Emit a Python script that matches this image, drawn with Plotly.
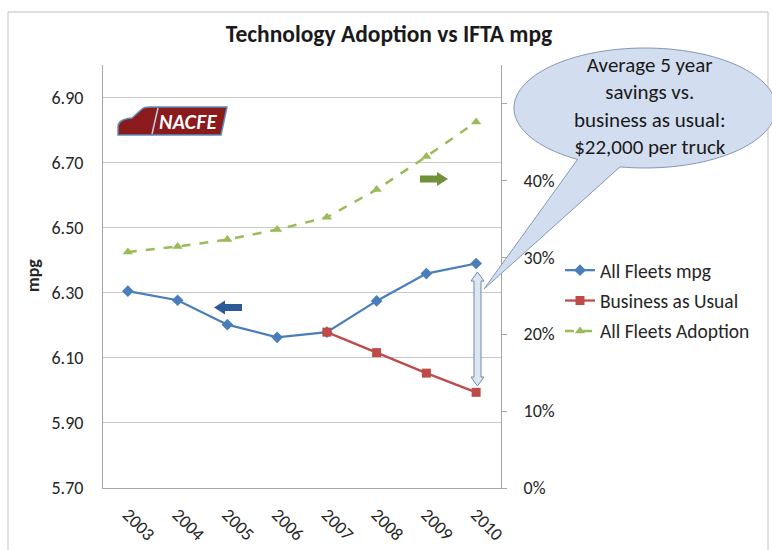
import numpy as np
import plotly.graph_objects as go

# ---------------- data ----------------
years = ["2003", "2004", "2005", "2006", "2007", "2008", "2009", "2010"]
fleet_mpg = [6.305, 6.277, 6.202, 6.163, 6.179, 6.275, 6.359, 6.390]
bau_mpg = [None, None, None, None, 6.179, 6.116, 6.053, 5.994]
adoption = [0.307, 0.314, 0.323, 0.336, 0.352, 0.388, 0.431, 0.476]

mpg_ticks = [5.70, 5.90, 6.10, 6.30, 6.50, 6.70, 6.90]
pct_ticks = [0.0, 0.1, 0.2, 0.3, 0.4, 0.5]
pct_labels = ["0%", "10%", "20%", "30%", "40%", ""]

callout_text = "Average 5 year<br>savings vs.<br>business as usual:<br>$22,000 per truck"

# ---------------- layout geometry ----------------
W, H = 772, 550
L, R, T, B = 103, 271, 65, 62
PW, PH = W - L - R, H - T - B
FONT = "Carlito, Lato, 'Liberation Sans', sans-serif"
TXT = "#262626"


def P(px, py):
    return (px - L) / PW, (H - B - py) / PH


def pp(px, py):
    x, y = P(px, py)
    return f"{x:.5f},{y:.5f}"


def path(points, close=True):
    s = ""
    for i, (px, py) in enumerate(points):
        s += ("M" if i == 0 else "L") + pp(px, py) + " "
    return s + ("Z" if close else "")


fig = go.Figure()

fig.add_trace(go.Scatter(
    x=years, y=fleet_mpg, name="All Fleets mpg", mode="lines+markers",
    line=dict(color="#4A7EBB", width=2.25),
    marker=dict(symbol="diamond", size=9, color="#4A7EBB"),
    legendgroup="a", yaxis="y"))
fig.add_trace(go.Scatter(
    x=years, y=bau_mpg, name="Business as Usual", mode="lines+markers",
    line=dict(color="#BE4B48", width=2.25),
    marker=dict(symbol="square", size=9, color="#BE4B48"),
    legendgroup="b", yaxis="y"))
fig.add_trace(go.Scatter(
    x=years, y=adoption, name="All Fleets Adoption", mode="lines+markers",
    line=dict(color="#9BBB59", width=2.5, dash="dash"),
    marker=dict(symbol="triangle-up", size=9, color="#9BBB59"),
    legendgroup="c", yaxis="y2"))

shapes = []
# chart border
bx0, by0 = P(8, 12)
bx1, by1 = P(768, 560)
shapes.append(dict(type="rect", xref="paper", yref="paper", x0=bx0, y0=by0, x1=bx1, y1=by1,
                   line=dict(color="#bfbfbf", width=1), layer="below"))

# NACFE logo
logo_path = (f"M{pp(118,135)} L{pp(118,126)} Q{pp(119,119)} {pp(132,118)} "
             f"L{pp(142,109)} Q{pp(144,107)} {pp(150,107)} L{pp(227,107)} L{pp(221,135)} Z")
shapes.append(dict(type="path", xref="paper", yref="paper", path=logo_path,
                   fillcolor="#8B1A1D", line=dict(color="#5B8FB9", width=1.5), layer="above"))
shapes.append(dict(type="path", xref="paper", yref="paper",
                   path=path([(158, 108), (152, 134)], close=False),
                   line=dict(color="#B9D1E6", width=1.5), layer="above"))

# blue left arrow
shapes.append(dict(type="path", xref="paper", yref="paper",
                   path=path([(214, 307.5), (225, 300.5), (225, 304), (242, 304), (242, 311),
                              (225, 311), (225, 314.5)]),
                   fillcolor="#2B5A96", line=dict(width=0), layer="above"))
# green right arrow
shapes.append(dict(type="path", xref="paper", yref="paper",
                   path=path([(448, 179), (437, 172), (437, 175.5), (420, 175.5), (420, 182.5),
                              (437, 182.5), (437, 186)]),
                   fillcolor="#71903A", line=dict(width=0), layer="above"))
# double arrow
shapes.append(dict(type="path", xref="paper", yref="paper",
                   path=path([(477.5, 272), (484, 281), (481, 281), (481, 377), (484, 377),
                              (477.5, 386), (471, 377), (474, 377), (474, 281), (471, 281)]),
                   fillcolor="#DCE6F2", line=dict(color="#6F88AB", width=1), layer="above"))

# callout bubble
cx, cy, rx, ry = 645, 108, 131, 60
ts = np.radians(np.linspace(121, 461, 120))
pts = [(cx + rx * np.cos(t), cy + ry * np.sin(t)) for t in ts]
pts.append((484, 289))
shapes.append(dict(type="path", xref="paper", yref="paper", path=path(pts),
                   fillcolor="#D2DEEF", line=dict(color="#8497B5", width=1), layer="above"))

annotations = []
ax_, ay_ = P(188, 122)
annotations.append(dict(xref="paper", yref="paper", x=ax_, y=ay_, text="<b><i>NACFE</i></b>",
                        showarrow=False, font=dict(family="Lato, sans-serif", size=19, color="white"),
                        xanchor="center", yanchor="middle"))
tx, ty = P(650, 106)
annotations.append(dict(xref="paper", yref="paper", x=tx, y=ty, text=callout_text,
                        showarrow=False, font=dict(family=FONT, size=21, color="#1a1a1a"),
                        xanchor="center", yanchor="middle", align="center"))
mx, my = P(33, 276)
annotations.append(dict(xref="paper", yref="paper", x=mx, y=my, text="<b>mpg</b>", textangle=-90,
                        showarrow=False, font=dict(family=FONT, size=18, color=TXT),
                        xanchor="center", yanchor="middle"))

fig.update_layout(
    template="none",
    width=W, height=H, autosize=False,
    margin=dict(l=L, r=R, t=T, b=B, pad=0, autoexpand=False),
    paper_bgcolor="white", plot_bgcolor="white",
    font=dict(family=FONT, size=18, color=TXT),
    title=dict(text="<b>Technology Adoption vs IFTA mpg</b>", x=389 / W, xref="container",
               xanchor="center", y=1 - 34 / H, yref="container", yanchor="middle",
               font=dict(size=23.5, color="#1a1a1a")),
    showlegend=True,
    legend=dict(x=560 / W, y=1 - 251 / H, xanchor="left", yanchor="top",
                xref="container", yref="container",
                traceorder="grouped", tracegroupgap=2, bgcolor="rgba(0,0,0,0)",
                borderwidth=0, font=dict(size=19.5, color=TXT)),
    xaxis=dict(type="category", range=[-0.5, 7.5], showline=True, linecolor="#a6a6a6",
               linewidth=1, showgrid=False, tickangle=45, ticks="", ticklabelstandoff=8,
               tickfont=dict(size=18), zeroline=False, automargin=False),
    yaxis=dict(range=[5.70, 7.00], tickvals=mpg_ticks, tickformat=".2f", showgrid=True,
               gridcolor="#c8c8c8", gridwidth=1, showline=True, linecolor="#a6a6a6",
               ticks="", ticklabelstandoff=15, zeroline=False, tickfont=dict(size=18),
               automargin=False),
    yaxis2=dict(range=[0, 0.55], overlaying="y", side="right", tickvals=pct_ticks,
                ticktext=pct_labels, showgrid=False, showline=True, linecolor="#a6a6a6",
                ticks="outside", ticklen=5, tickcolor="#a6a6a6", ticklabelstandoff=13,
                zeroline=False, tickfont=dict(size=18), automargin=False),
    shapes=shapes, annotations=annotations,
)

fig.write_html("out.html", config={"displayModeBar": False},
               post_script="document.body.style.margin='0';")
